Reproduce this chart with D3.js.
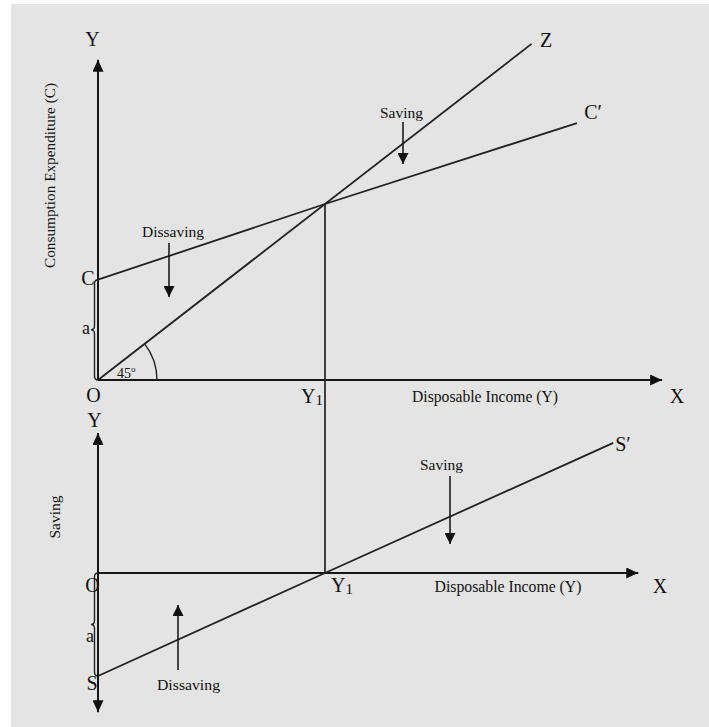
<!DOCTYPE html>
<html><head><meta charset="utf-8">
<script src="https://cdn.jsdelivr.net/npm/d3@7"></script>
<style>html,body{margin:0;padding:0;background:#fff}svg{display:block}</style>
</head><body>
<script>
// ---- data ----
const income45 = [0, 191];                 // 45° line (OZ)
const consumption45 = [0, 191];
const incomeC = [0, 100, 211];             // consumption function C C'
const consumptionC = [57, 100, 146];
const incomeS = [0, 100, 227];             // saving function S S'
const savingS = [-57, 0, 72];
const breakEvenIncome = [100];             // Y1
const topAxisExtent = [248.5, 182];        // x max, y max (upper panel)
const bottomAxisExtent = [238, 77.5, -77]; // x max, y max, y min (lower panel)

const W = 709, H = 727;
const svg = d3.select("body").append("svg").attr("width", W).attr("height", H);
svg.append("rect").attr("width", W).attr("height", H).attr("fill", "#fff");
svg.append("rect").attr("x", 11).attr("y", 4).attr("width", W - 11).attr("height", H - 4).attr("fill", "#e4e4e4");

const x = d3.scaleLinear().domain([0, 100]).range([98, 325]);
const yTop = d3.scaleLinear().domain([0, 100]).range([380, 204]);
const yBot = d3.scaleLinear().domain([0, -57]).range([573, 676]);

const defs = svg.append("defs");
function marker(id, w, h, color) {
  defs.append("marker").attr("id", id).attr("markerUnits", "userSpaceOnUse")
    .attr("viewBox", `0 0 ${w} ${h}`).attr("refX", w).attr("refY", h / 2)
    .attr("markerWidth", w).attr("markerHeight", h).attr("orient", "auto")
    .append("path").attr("d", `M0,0L${w},${h / 2}L0,${h}Z`).attr("fill", color);
}
marker("ax", 12, 11, "#111");
marker("an", 11, 11, "#111");

const axisCol = "#151515", lineCol = "#222";
function seg(x1, y1, x2, y2, w, col, mk) {
  const l = svg.append("line").attr("x1", x1).attr("y1", y1).attr("x2", x2).attr("y2", y2)
    .attr("stroke", col).attr("stroke-width", w);
  if (mk) l.attr("marker-end", `url(#${mk})`);
  return l;
}
const lineGen = (ys) => d3.line().x(d => x(d[0])).y(d => ys(d[1]));

// ---- upper panel axes ----
seg(x(0), yTop(0), x(0), yTop(topAxisExtent[1]), 2, axisCol, "ax");
seg(x(0), yTop(0), x(topAxisExtent[0]), yTop(0), 2, axisCol, "ax");
// ---- lower panel axes ----
seg(x(0), yBot(0), x(0), yBot(bottomAxisExtent[1]), 2, axisCol, "ax");
seg(x(0), yBot(0), x(0), yBot(bottomAxisExtent[2]), 2, axisCol, "ax");
seg(x(0), yBot(0), x(bottomAxisExtent[0]), yBot(0), 2, axisCol, "ax");

// ---- lines ----
svg.append("path").attr("d", lineGen(yTop)(income45.map((v, i) => [v, consumption45[i]])))
  .attr("fill", "none").attr("stroke", lineCol).attr("stroke-width", 1.8);
svg.append("path").attr("d", lineGen(yTop)(incomeC.map((v, i) => [v, consumptionC[i]])))
  .attr("fill", "none").attr("stroke", lineCol).attr("stroke-width", 1.8);
svg.append("path").attr("d", lineGen(yBot)(incomeS.map((v, i) => [v, savingS[i]])))
  .attr("fill", "none").attr("stroke", lineCol).attr("stroke-width", 1.8);
// vertical at Y1
seg(x(breakEvenIncome[0]), yTop(100), x(breakEvenIncome[0]), yBot(0), 1.7, lineCol);

// ---- 45° arc ----
const ang = Math.atan2(yTop(0) - yTop(191), x(191) - x(0));
const r = 59;
svg.append("path")
  .attr("d", `M${x(0) + r},${yTop(0)} A${r},${r} 0 0 0 ${x(0) + r * Math.cos(ang)},${yTop(0) - r * Math.sin(ang)}`)
  .attr("fill", "none").attr("stroke", lineCol).attr("stroke-width", 1.4);

// ---- braces ----
function brace(xx, y0, y1, d) {
  const ym = (y0 + y1) / 2, xa = xx - d / 2, xt = xx - d;
  const p = `M${xx},${y0} Q${xa},${y0} ${xa},${y0 + 4} L${xa},${ym - 4} Q${xa},${ym} ${xt},${ym}` +
    ` Q${xa},${ym} ${xa},${ym + 4} L${xa},${y1 - 4} Q${xa},${y1} ${xx},${y1}`;
  svg.append("path").attr("d", p).attr("fill", "none").attr("stroke", "#222").attr("stroke-width", 1.4);
}
brace(98, yTop(57), yTop(0), 7);
brace(98, yBot(0), yBot(-57), 7);

// ---- annotation arrows ----
seg(169, 243, 169, 297, 1.5, "#111", "an");
seg(403, 122, 403, 164, 1.5, "#111", "an");
seg(450, 476, 450, 544, 1.5, "#111", "an");
seg(178, 670, 178, 605, 1.5, "#111", "an");

// ---- text ----
const serif = "'Liberation Serif','Times New Roman',serif";
function txt(s, cx, by, size, opts = {}) {
  const t = svg.append("text").attr("x", cx).attr("y", by).attr("font-family", serif)
    .attr("font-size", size).attr("fill", "#111").attr("text-anchor", opts.anchor || "middle").text(s);
  if (opts.len) t.attr("textLength", opts.len).attr("lengthAdjust", "spacingAndGlyphs");
  if (opts.rot) t.attr("transform", `rotate(-90 ${cx} ${by})`);
  return t;
}
function sub(base, subTxt, lx, by) {
  const t = svg.append("text").attr("x", lx).attr("y", by).attr("font-family", serif)
    .attr("font-size", 20).attr("fill", "#111");
  t.append("tspan").text(base);
  t.append("tspan").attr("font-size", 15).attr("dy", 2).text(subTxt);
}
// big labels
txt("Y", 92.5, 46, 20);
txt("Z", 546, 47, 20);
txt("C\u2032", 593, 119, 20);
txt("C", 88, 285, 20);
txt("a", 86, 334, 18);
txt("O", 93.5, 402, 20);
txt("X", 677, 403, 20);
sub("Y", "1", 301, 403);
txt("Y", 94.5, 427, 20);
txt("O", 92.5, 592, 20);
txt("a", 90, 642, 18);
txt("S", 92, 690, 20);
txt("S\u2032", 623, 451, 20);
txt("X", 660, 593, 20);
sub("Y", "1", 331, 592);
// 45°
const t45 = svg.append("text").attr("x", 117).attr("y", 378).attr("font-family", serif)
  .attr("font-size", 14).attr("fill", "#111");
t45.append("tspan").text("45");
t45.append("tspan").attr("font-size", 9).attr("dy", -6).text("o");

// small labels
txt("Disposable Income (Y)", 485, 402, 16, { len: 146 });
txt("Disposable Income (Y)", 508, 592, 16, { len: 147 });
txt("Saving", 401.5, 118, 15, { len: 43 });
txt("Dissaving", 173, 237, 15, { len: 62 });
txt("Saving", 441.5, 470, 15, { len: 43 });
txt("Dissaving", 188.5, 690, 15, { len: 63 });
txt("Consumption Expenditure (C)", 55, 175.5, 15, { len: 185, rot: true });
txt("Saving", 60, 517, 15, { len: 43, rot: true });
</script>
</body></html>
